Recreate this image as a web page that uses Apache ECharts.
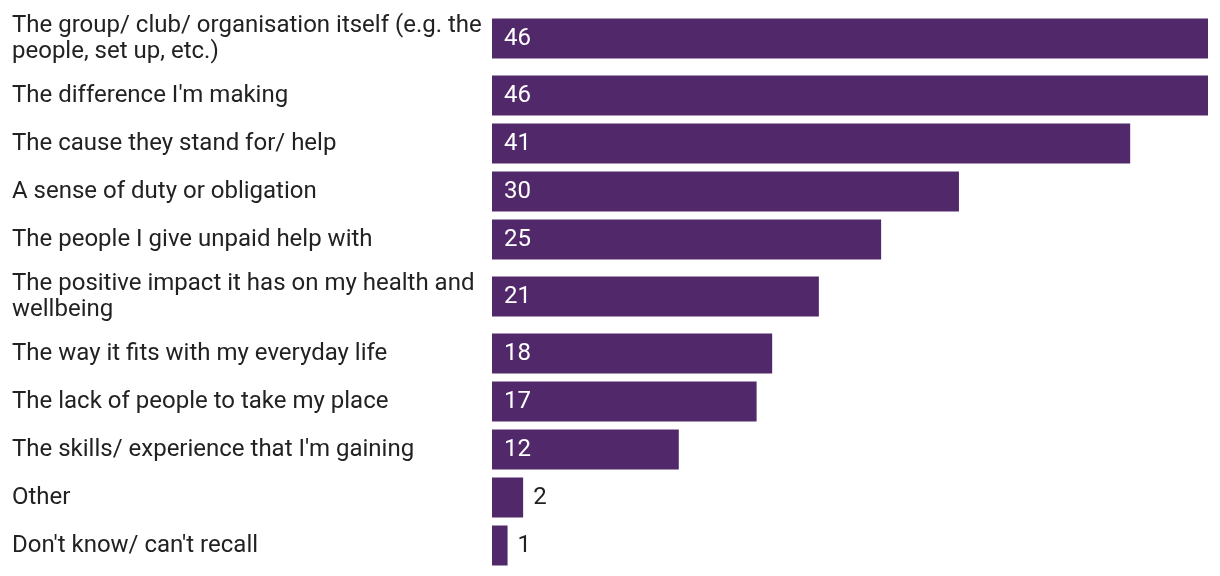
<!DOCTYPE html>
<html>
<head>
<meta charset="utf-8">
<script src="https://cdn.jsdelivr.net/npm/echarts@6/dist/echarts.min.js"></script>
<style>
html,body{margin:0;padding:0;background:#fff;}
#chart{width:1220px;height:576px;}
</style>
</head>
<body>
<div id="chart"></div>
<script>
const categories = [
  "The group/ club/ organisation itself (e.g. the\npeople, set up, etc.)",
  "The difference I'm making",
  "The cause they stand for/ help",
  "A sense of duty or obligation",
  "The people I give unpaid help with",
  "The positive impact it has on my health and\nwellbeing",
  "The way it fits with my everyday life",
  "The lack of people to take my place",
  "The skills/ experience that I'm gaining",
  "Other",
  "Don't know/ can't recall"
];
const values = [46, 46, 41, 30, 25, 21, 18, 17, 12, 2, 1];

(function () {
  const font = 'Roboto, "Noto Sans", sans-serif';
  const chart = echarts.init(document.getElementById('chart'), null, {renderer: 'canvas'});

  // each row gets its own grid so that rows with two-line labels are taller
  const grids = [], xAxes = [], yAxes = [], series = [];
  let rowTop = 5.5;
  categories.forEach((cat, i) => {
    const lines = cat.split('\n').length;
    const h = lines > 1 ? 66 : 48;
    grids.push({left: 492, right: 12, top: rowTop, height: h, containLabel: false});
    xAxes.push({type: 'value', gridIndex: i, min: 0, max: 46, show: false});
    yAxes.push({
      type: 'category', gridIndex: i, data: [cat],
      axisLine: {show: false}, axisTick: {show: false}, splitLine: {show: false},
      axisLabel: {align: 'left', margin: 480, color: '#222222', fontFamily: font, fontSize: 24,
                  lineHeight: 26, padding: [5, 0, 0, 0]}
    });
    const v = values[i];
    series.push({
      type: 'bar', xAxisIndex: i, yAxisIndex: i, barWidth: 40,
      itemStyle: {color: '#51296b'},
      label: v < 5
        ? {show: true, position: 'right', distance: 10, color: '#222222', fontFamily: font, fontSize: 24, padding: [5, 0, 0, 0]}
        : {show: true, position: 'insideLeft', distance: 12, color: '#ffffff', fontFamily: font, fontSize: 24, padding: [5, 0, 0, 0]},
      data: [v]
    });
    rowTop += h;
  });

  chart.setOption({animation: false, grid: grids, xAxis: xAxes, yAxis: yAxes, series: series});
})();
</script>
</body>
</html>
